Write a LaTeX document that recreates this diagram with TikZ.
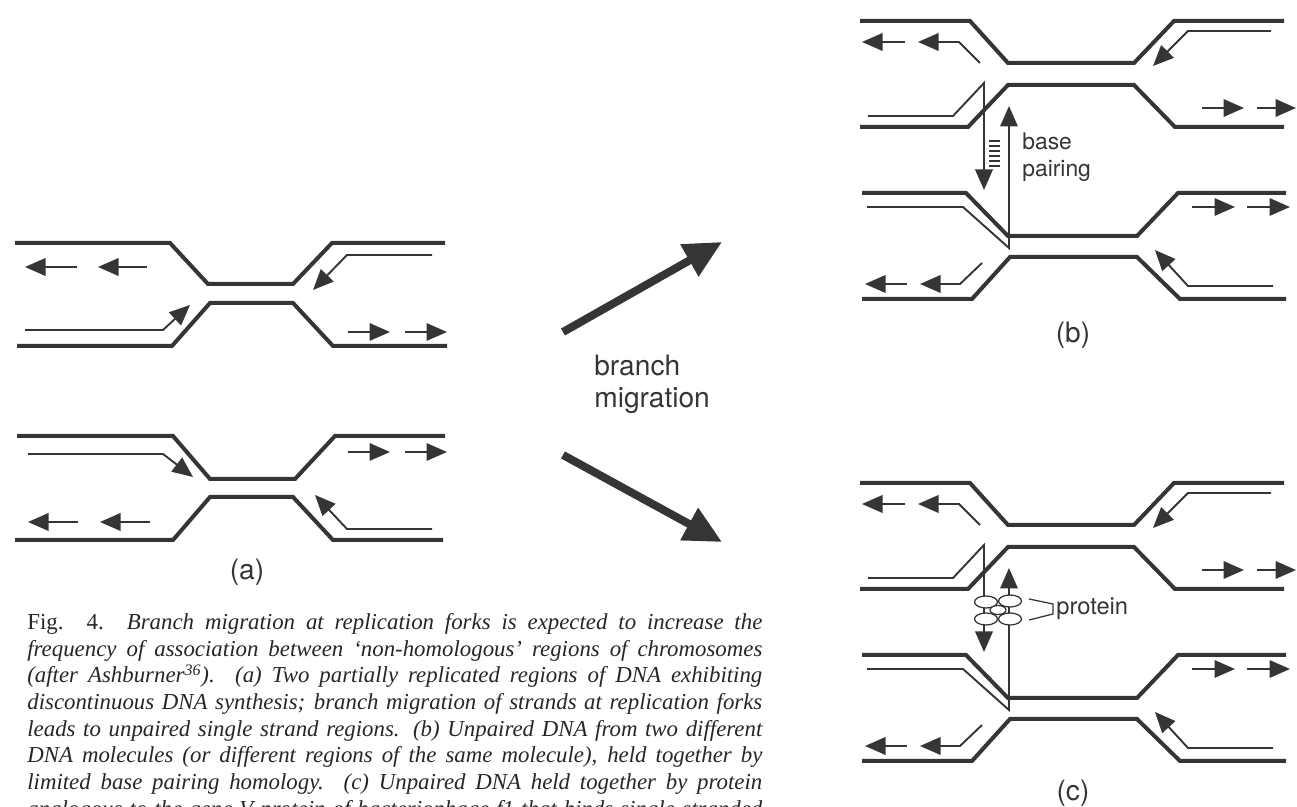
\documentclass[tikz,border=0pt]{standalone}
\usepackage{fontspec}
\setmainfont{Liberation Serif}
\setsansfont{TeX Gyre Heros}
\usetikzlibrary{arrows.meta}
\def\totalwidth{1297}
\def\totalheight{807}
\definecolor{ink}{HTML}{353535}
\tikzstyle{strand}    = [draw=ink, line width=0.8mm, line join=miter]
\tikzstyle{newstrand} = [draw=ink, line width=0.38mm]
\tikzstyle{bond}      = [draw=ink, line width=0.25mm]
\tikzstyle{blob}      = [draw=ink, fill=white, line width=0.25mm]
\tikzstyle{panel}     = [font=\sffamily\fontsize{16}{18}\selectfont, text=ink, inner sep=0pt]
\tikzstyle{note}      = [font=\sffamily\fontsize{13}{15.5}\selectfont, text=ink,
                         align=left, anchor=west, inner sep=0pt]
\tikzset{fwd/.style={-{Triangle[length=4.1mm,width=3.5mm]}},
         migrate/.style={draw=ink, line width=1.6mm, -{Triangle[length=7.5mm,width=7mm]}}
}
\tikzstyle{caption}   = [font=\fontsize{13}{15.2}\selectfont\itshape, text=black!85,
                         align=left, anchor=north west, inner sep=0pt]
\newcommand{\figline}[1]{\makebox[14.7cm][s]{#1}}
% two facing forks, used for (b) and (c)
\newcommand{\forkpair}{%
    \draw[strand] (860,21) -- (970,21) -- (1008,63) -- (1134,63) -- (1174,21) -- (1284,21);
    \draw[strand] (860,127) -- (968,127) -- (1008,85) -- (1134,85) -- (1175,127) -- (1284,127);
    \draw[strand] (862,193) -- (966,193) -- (1008,236) -- (1137,236) -- (1178,193) -- (1286,193);
    \draw[strand] (862,299) -- (972,299) -- (1010,257) -- (1137,257) -- (1180,299) -- (1286,299);
    \draw[newstrand,fwd] (1271,31) -- (1188,31) -- (1153,66);
    \draw[newstrand,fwd] (905,42) -- (862,42);
    \draw[newstrand,fwd] (980,63) -- (959,42) -- (918,42);
    \draw[newstrand,fwd] (868,116) -- (953,116) -- (984,83) -- (984,190);
    \draw[newstrand,fwd] (1202,108) -- (1244,108);
    \draw[newstrand,fwd] (1257,108) -- (1296,108);
    \draw[newstrand,fwd] (867,207) -- (963,207) -- (1009,248) -- (1009,106);
    \draw[newstrand,fwd] (1192,207) -- (1235,207);
    \draw[newstrand,fwd] (1247,207) -- (1290,207);
    \draw[newstrand,fwd] (907,284) -- (865,284);
    \draw[newstrand,fwd] (982,263) -- (960,284) -- (920,284);
    \draw[newstrand,fwd] (1273,286) -- (1188,286) -- (1155,250);
}

\begin{document}
\begin{tikzpicture}[x=0.2mm, y=-0.2mm]
    \useasboundingbox (0,0) rectangle (\totalwidth,\totalheight);

    % Part (a)
    \begin{scope}
        % upper molecule
        \draw[strand] (15,243) -- (170,243) -- (208,284) -- (293,284) -- (332,243) -- (445,243);
        \draw[strand] (17,346) -- (172,346) -- (210,303) -- (293,303) -- (333,346) -- (447,346);
        \draw[newstrand,fwd] (432,255) -- (347,255) -- (313,290);
        \draw[newstrand,fwd] (25,330) -- (163,330) -- (190,305);
        \draw[newstrand,fwd] (77,267) -- (25,267);
        \draw[newstrand,fwd] (147,267) -- (98,267);
        \draw[newstrand,fwd] (348,332) -- (390,332);
        \draw[newstrand,fwd] (405,332) -- (447,332);

        % lower molecule
        \draw[strand] (17,436) -- (173,436) -- (210,479) -- (295,479) -- (335,436) -- (445,436);
        \draw[strand] (15,540) -- (173,540) -- (210,497) -- (293,497) -- (333,540) -- (443,540);
        \draw[newstrand,fwd] (28,454) -- (163,454) -- (193,477);
        \draw[newstrand,fwd] (348,452) -- (390,452);
        \draw[newstrand,fwd] (405,452) -- (447,452);
        \draw[newstrand,fwd] (78,522) -- (28,522);
        \draw[newstrand,fwd] (150,522) -- (100,522);
        \draw[newstrand,fwd] (432,529) -- (347,529) -- (315,495);

        \node[panel] (la) at (247,572) {(a)};
    \end{scope}

    % Branch migration
    \coordinate (upstart)   at (563,332);
    \coordinate (upend)     at (722,242);
    \coordinate (downstart) at (563,455);
    \coordinate (downend)   at (722,542);
    \draw[migrate] (upstart) -- (upend);
    \draw[migrate] (downstart) -- (downend);
    \node[note, font=\sffamily\fontsize{16}{18.2}\selectfont] (mig) at (594,384) {branch\\migration};

    % Part (b)
    \begin{scope}
        \forkpair
        \foreach \y in {141,146,...,166}
            \draw[bond] (989,\y) -- (1000,\y);
        \node[note] (pair) at (1022,157) {base\\pairing};
        \node[panel] (lb) at (1073,335) {(b)};
    \end{scope}

    % Part (c)
    \begin{scope}[shift={(0,462)}]
        \forkpair
        \draw[blob] (986,140) ellipse [x radius=11.5, y radius=6];
        \draw[blob] (1010,139) ellipse [x radius=11.5, y radius=6];
        \draw[blob] (986,157) ellipse [x radius=11.5, y radius=6];
        \draw[blob] (1010,157) ellipse [x radius=11.5, y radius=6];
        \draw[blob] (998,148) ellipse [x radius=8, y radius=4.5];
        \draw[bond] (1029,137) -- (1053,142) -- (1053,152) -- (1029,158);
        \node[note, font=\sffamily\fontsize{13.5}{15.5}\selectfont] (prot) at (1056,147) {protein};
        \node[panel] (lc) at (1073,331) {(c)};
    \end{scope}

    % Legend
    \node[caption] (cap) at (27,613) {%
        \figline{{\upshape Fig. 4.} Branch migration at replication forks is expected to increase the}\\
        \figline{frequency of association between `non-homologous' regions of chromosomes}\\
        \figline{(after Ashburner\textsuperscript{36}). (a) Two partially replicated regions of DNA exhibiting}\\
        \figline{discontinuous DNA synthesis; branch migration of strands at replication forks}\\
        \figline{leads to unpaired single strand regions. (b) Unpaired DNA from two different}\\
        \figline{DNA molecules (or different regions of the same molecule), held together by}\\
        \figline{limited base pairing homology. (c) Unpaired DNA held together by protein}\\
        \figline{analogous to the gene V protein of bacteriophage f1 that binds single-stranded}};
\end{tikzpicture}
\end{document}
